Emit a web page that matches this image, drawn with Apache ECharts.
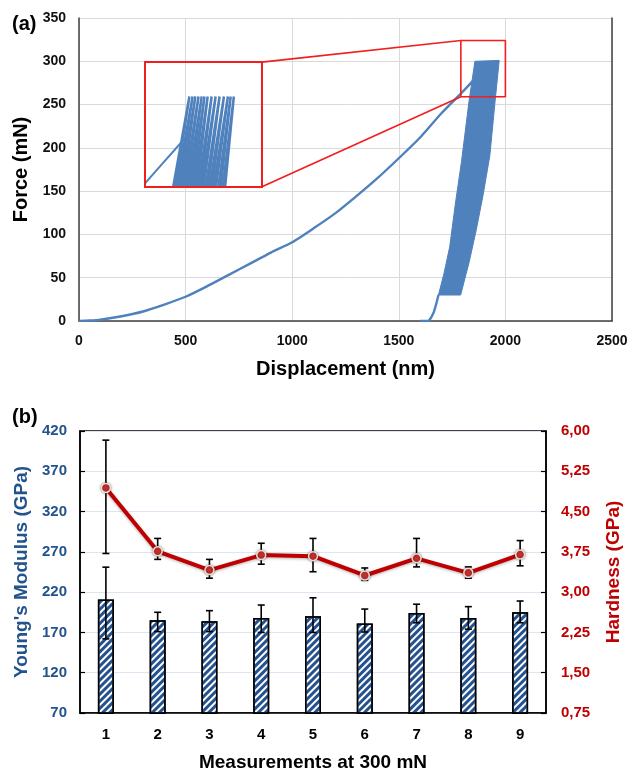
<!DOCTYPE html>
<html>
<head>
<meta charset="utf-8">
<script src="https://cdn.jsdelivr.net/npm/echarts@6.0.0/dist/echarts.min.js"></script>
<style>
  html, body { margin: 0; padding: 0; background: #fff; }
  #chart { width: 631px; height: 773px; }
</style>
</head>
<body>
<div id="chart"></div>
<script>
// (a) load-displacement curve
var loadX = [0, 50, 100, 200, 300, 400, 500, 600, 700, 800, 900, 1000, 1100, 1200, 1300, 1400, 1500, 1600, 1700, 1800, 1850];
var loadY = [0, 0.5, 1.5, 5.5, 11, 19, 28, 40, 53, 66, 79, 91, 107, 124, 144, 165, 188, 212, 240, 265, 278];
// the cyclic unload/reload band (left and right edges, top to bottom)
var bandLeft = [[1857, 300], [1830, 255], [1794, 184], [1765, 135], [1739, 86], [1712, 55], [1686, 30]];
var bandRight = [[1971, 301], [1950, 250], [1927, 191], [1895, 145], [1864, 106], [1830, 68], [1790, 30]];
var unloadTail = [[1686, 30], [1676, 20], [1664, 10], [1652, 4], [1640, 0], [1601, 0]];
// zoom box on the main plot and the magnified inset
var zoomBox = [[1791, 259], [2000, 259], [2000, 324], [1791, 324], [1791, 259]];
var zoomLinkTop = [[858, 299], [1791, 324]];
var zoomLinkBottom = [[858, 155], [1791, 259]];
var insetLoad = [[1745, 227], [1790, 244], [1838, 262], [1860, 270]];
var insetTopX = [1857, 1865, 1872, 1880, 1888, 1895, 1903, 1913, 1923, 1933, 1944, 1954, 1961, 1969];
var insetBottomX = [1816, 1825, 1834, 1843, 1852, 1861, 1870, 1879, 1887, 1898, 1908, 1918, 1930, 1941];

// (b) measurements
var measurements = ['1', '2', '3', '4', '5', '6', '7', '8', '9'];
var modulus = [211, 185, 184, 188, 190, 181, 194, 188, 195];
var modulusLow = [162, 171, 171, 170, 170, 170.5, 182, 174, 182];
var modulusHigh = [251, 195, 197, 204, 213, 199, 205, 202, 209];
var hardness = [4.94, 3.76, 3.41, 3.69, 3.67, 3.31, 3.63, 3.36, 3.70];
var hardnessLow = [3.72, 3.61, 3.26, 3.52, 3.38, 3.22, 3.47, 3.26, 3.49];
var hardnessHigh = [5.83, 4.00, 3.61, 3.91, 4.00, 3.45, 4.00, 3.47, 3.96];

var FONT = 'Liberation Sans, Arial, sans-serif';
var BLUE = '#4f81bd';
var RED = '#f01e1e';
var NAVY = '#23538c';
var DARKRED = '#c00000';

var chart = echarts.init(document.getElementById('chart'), null, {renderer: 'canvas'});

function errorBarSeries(name, xIdx, yIdx, low, high, z) {
    return {
        name: name, type: 'custom', xAxisIndex: xIdx, yAxisIndex: yIdx, z: z,
        data: low.map((l, i) => [i, l, high[i]]),
        encode: {x: 0, y: [1, 2]},
        renderItem: function (params, api) {
            var lo = api.coord([api.value(0), api.value(1)]);
            var hi = api.coord([api.value(0), api.value(2)]);
            var w = 3.5;
            var st = {stroke: '#000', lineWidth: 1.6};
            return {type: 'group', children: [
                {type: 'line', shape: {x1: lo[0], y1: lo[1], x2: hi[0], y2: hi[1]}, style: st},
                {type: 'line', shape: {x1: lo[0] - w, y1: lo[1], x2: lo[0] + w, y2: lo[1]}, style: st},
                {type: 'line', shape: {x1: hi[0] - w, y1: hi[1], x2: hi[0] + w, y2: hi[1]}, style: st}
            ]};
        }
    };
}

var insetSeries = insetTopX.map((top, i) => ({
    type: 'line', xAxisIndex: 1, yAxisIndex: 2, symbol: 'none', silent: true,
    data: [[insetBottomX[i], 224], [top, 300], [insetBottomX[i] + 6, 224]],
    lineStyle: {color: BLUE, width: 2.5}
}));

var option = {
    animation: false,
    backgroundColor: '#fff',
    textStyle: {fontFamily: FONT},
    title: [
        {text: '(a)', left: 7, top: 9, textStyle: {fontSize: 20, fontWeight: 'bold', color: '#000', fontFamily: FONT}},
        {text: '(b)', left: 7, top: 402, textStyle: {fontSize: 20, fontWeight: 'bold', color: '#000', fontFamily: FONT}}
    ],
    grid: [
        {left: 79, top: 18, width: 533, height: 303},
        {left: 145, top: 62, width: 117, height: 125, show: true, borderColor: RED, borderWidth: 2, backgroundColor: 'transparent', z: 5},
        {left: 80, top: 431, width: 471, height: 282, show: true, borderColor: '#000', borderWidth: 1.5, backgroundColor: 'transparent'}
    ],
    xAxis: [
        {
            gridIndex: 0, type: 'value', min: 0, max: 2500, interval: 500,
            name: 'Displacement (nm)', nameLocation: 'middle', nameGap: 38,
            nameTextStyle: {fontSize: 20, fontWeight: 'bold', color: '#000', fontFamily: FONT},
            axisLine: {show: true, lineStyle: {color: '#404040', width: 1.5}},
            axisTick: {show: false},
            axisLabel: {fontSize: 14, fontWeight: 'bold', color: '#111', margin: 13, fontFamily: FONT, formatter: v => String(v)},
            splitLine: {show: true, lineStyle: {color: '#dadada', width: 1}}
        },
        {gridIndex: 1, type: 'value', min: 1745, max: 2040, show: false},
        {
            gridIndex: 2, type: 'category', data: measurements,
            name: 'Measurements at 300 mN', nameLocation: 'middle', nameGap: 40,
            nameTextStyle: {fontSize: 19, fontWeight: 'bold', color: '#000', fontFamily: FONT},
            axisLine: {show: true, lineStyle: {color: '#000', width: 1.5}},
            axisTick: {show: false},
            axisLabel: {fontSize: 15, fontWeight: 'bold', color: '#000', margin: 14, fontFamily: FONT}
        }
    ],
    yAxis: [
        {
            gridIndex: 0, type: 'value', min: 0, max: 350, interval: 50,
            name: 'Force (mN)', nameLocation: 'middle', nameGap: 48, nameRotate: 90,
            nameTextStyle: {fontSize: 20, fontWeight: 'bold', color: '#000', fontFamily: FONT},
            axisLine: {show: true, lineStyle: {color: '#404040', width: 1.5}},
            axisTick: {show: false},
            axisLabel: {fontSize: 14, fontWeight: 'bold', color: '#111', margin: 13, fontFamily: FONT},
            splitLine: {show: true, lineStyle: {color: '#dadada', width: 1}}
        },
        {
            gridIndex: 0, type: 'value', min: 0, max: 350, interval: 50, position: 'right',
            axisLine: {show: true, lineStyle: {color: '#404040', width: 1.5}},
            axisTick: {show: false}, axisLabel: {show: false}, splitLine: {show: false}
        },
        {gridIndex: 1, type: 'value', min: 224, max: 329, show: false},
        {
            gridIndex: 2, type: 'value', min: 70, max: 420, interval: 50,
            name: "Young's Modulus (GPa)", nameLocation: 'middle', nameGap: 48, nameRotate: 90,
            nameTextStyle: {fontSize: 19, fontWeight: 'bold', color: NAVY, fontFamily: FONT},
            axisLine: {show: true, lineStyle: {color: '#000', width: 1.5}},
            axisTick: {show: true, inside: true, length: 5, lineStyle: {color: '#000', width: 1.2}},
            axisLabel: {fontSize: 15, fontWeight: 'bold', color: NAVY, margin: 13, fontFamily: FONT},
            splitLine: {show: true, lineStyle: {color: '#dce6f2', width: 1.2}}
        },
        {
            gridIndex: 2, type: 'value', min: 0.75, max: 6, interval: 0.75, position: 'right',
            name: 'Hardness (GPa)', nameLocation: 'middle', nameGap: 58, nameRotate: 90,
            nameTextStyle: {fontSize: 19, fontWeight: 'bold', color: DARKRED, fontFamily: FONT},
            axisLine: {show: true, lineStyle: {color: '#000', width: 1.5}},
            axisTick: {show: true, inside: true, length: 5, lineStyle: {color: '#000', width: 1.2}},
            axisLabel: {
                fontSize: 15, fontWeight: 'bold', color: DARKRED, margin: 15, fontFamily: FONT,
                formatter: v => v.toFixed(2).replace('.', ',')
            },
            splitLine: {show: false}
        }
    ],
    series: [
        {
            name: 'band', type: 'custom', xAxisIndex: 0, yAxisIndex: 0, z: 3, silent: true,
            data: [0],
            renderItem: function (params, api) {
                var pts = bandLeft.concat(bandRight.slice().reverse()).map(p => api.coord(p));
                return {type: 'polygon', shape: {points: pts}, style: {fill: BLUE, stroke: BLUE, lineWidth: 1}};
            }
        },
        {
            name: 'loading', type: 'line', xAxisIndex: 0, yAxisIndex: 0, symbol: 'none', z: 3,
            smooth: 0.2,
            data: loadX.map((x, i) => [x, loadY[i]]),
            lineStyle: {color: BLUE, width: 2.4}
        },
        {
            name: 'unload', type: 'line', xAxisIndex: 0, yAxisIndex: 0, symbol: 'none', z: 3,
            data: unloadTail, lineStyle: {color: BLUE, width: 2.4}
        },
        {
            name: 'zoombox', type: 'line', xAxisIndex: 0, yAxisIndex: 0, symbol: 'none', z: 4,
            data: zoomBox, lineStyle: {color: RED, width: 1.6}
        },
        {
            name: 'link1', type: 'line', xAxisIndex: 0, yAxisIndex: 0, symbol: 'none', z: 4,
            data: zoomLinkTop, lineStyle: {color: RED, width: 1.6}
        },
        {
            name: 'link2', type: 'line', xAxisIndex: 0, yAxisIndex: 0, symbol: 'none', z: 4,
            data: zoomLinkBottom, lineStyle: {color: RED, width: 1.6}
        },
        {
            name: 'insetload', type: 'line', xAxisIndex: 1, yAxisIndex: 2, symbol: 'none',
            data: insetLoad, lineStyle: {color: BLUE, width: 2}
        }
    ].concat(insetSeries).concat([
        {
            name: 'modulus', type: 'bar', xAxisIndex: 2, yAxisIndex: 3, barWidth: 16, z: 2,
            data: modulus,
            itemStyle: {
                color: '#ffffff', borderColor: '#000', borderWidth: 1.5,
                decal: {symbol: 'rect', symbolSize: 1, color: '#24528f', dashArrayX: [1, 0], dashArrayY: [2.2, 1.2], rotation: -Math.PI / 4}
            }
        },
        errorBarSeries('modulusErr', 2, 3, modulusLow, modulusHigh, 3),
        errorBarSeries('hardnessErr', 2, 4, hardnessLow, hardnessHigh, 3),
        {
            name: 'hardness', type: 'line', xAxisIndex: 2, yAxisIndex: 4, z: 5,
            data: hardness,
            symbol: 'circle', symbolSize: 9,
            lineStyle: {color: DARKRED, width: 4, shadowColor: 'rgba(0,0,0,0.3)', shadowBlur: 3, shadowOffsetY: 1},
            itemStyle: {color: '#c8302c', borderColor: '#eadbd6', borderWidth: 1.5, shadowColor: 'rgba(0,0,0,0.4)', shadowBlur: 3}
        }
    ])
};

chart.setOption(option);
</script>
</body>
</html>
